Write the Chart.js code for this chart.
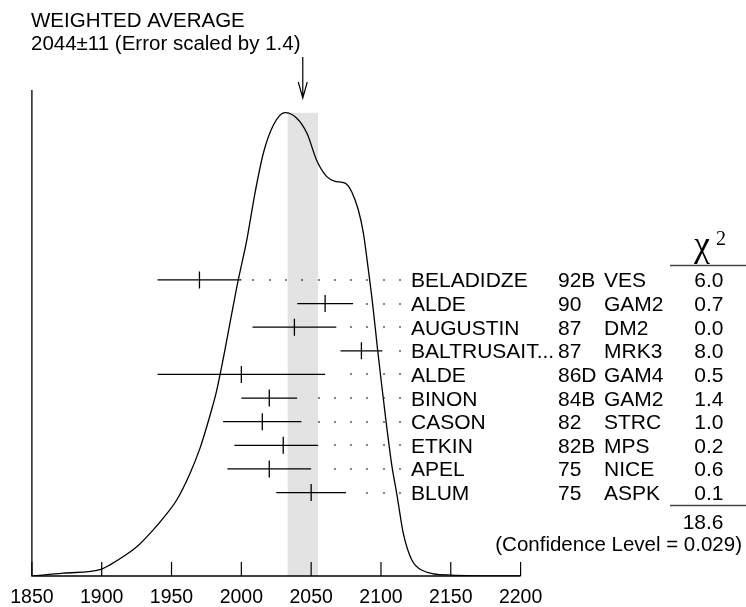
<!DOCTYPE html>
<html>
<head>
<meta charset="utf-8">
<script src="https://cdn.jsdelivr.net/npm/chart.js@4.4.1/dist/chart.umd.min.js"></script>
<style>
  html, body { margin: 0; padding: 0; background: #ffffff; }
  #wrap { width: 746px; height: 607px; position: relative; }
</style>
</head>
<body>
<div id="wrap"><canvas id="c" width="746" height="607"></canvas></div>
<script>
// ---------------- data ----------------
const names  = ['BELADIDZE','ALDE','AUGUSTIN','BALTRUSAIT...','ALDE','BINON','CASON','ETKIN','APEL','BLUM'];
const years  = ['92B','90','87','87','86D','84B','82','82B','75','75'];
const techs  = ['VES','GAM2','DM2','MRK3','GAM4','GAM2','STRC','MPS','NICE','ASPK'];
const values = [1970, 2060, 2038, 2086, 2000, 2020, 2015, 2030, 2020, 2050];
const errLow = [30, 20, 30, 15, 60, 20, 28, 35, 30, 25];
const errHigh= [30, 20, 30, 15, 60, 20, 28, 25, 30, 25];
const chi2   = ['6.0','0.7','0.0','8.0','0.5','1.4','1.0','0.2','0.6','0.1'];
const chi2Total = '18.6';
const confLevel = '0.029';
const avgValue = 2044, avgError = 11, errScale = '1.4';
const xTicks = [1850, 1900, 1950, 2000, 2050, 2100, 2150, 2200];

// ideogram curve (relative height, peak = 1)
const curveX = [1850,1872.5,1900,1905.9,1915.5,1925.1,1934.6,1944.1,1953.7,1963.3,1970.4,1977.6,1982.4,1997.8,2003.9,2009.8,2015.8,2022.9,2031.2,2039.7,2046.9,2054.4,2061.2,2067.1,2074.3,2079.1,2083.8,2087.4,2091,2094,2097.6,2100.1,2103.5,2107.7,2111.3,2116,2122,2129,2150,2200];
const curveY = [0,0.006,0.015,0.024,0.042,0.063,0.092,0.125,0.164,0.222,0.276,0.347,0.401,0.639,0.725,0.827,0.913,0.973,1.0,0.988,0.956,0.894,0.862,0.852,0.848,0.829,0.790,0.740,0.660,0.588,0.488,0.423,0.337,0.240,0.178,0.092,0.035,0.013,0.002,0];

// ---------------- chart ----------------
const SANS = '"Liberation Sans", Arial, Helvetica, sans-serif';
const SERIF = '"Liberation Serif", "Times New Roman", serif';
const peak = Math.max(...curveY);
const curveData = curveX.map((x, i) => ({x: x, y: curveY[i]}));
const bandData = [{x: avgValue - avgError, y: peak}, {x: avgValue + avgError, y: peak}];

const deco = {
  id: 'deco',
  afterDatasetsDraw(chart) {
    const ctx = chart.ctx, xs = chart.scales.x, rs = chart.scales.row;
    ctx.save();
    ctx.strokeStyle = '#000';
    ctx.lineWidth = 1.3;
    const dotEnd = 2113.7, dotStep = 11.68;
    for (let i = 0; i < values.length; i++) {
      const y = rs.getPixelForValue(i);
      const x1 = xs.getPixelForValue(values[i] - errLow[i]);
      const x2 = xs.getPixelForValue(values[i] + errHigh[i]);
      const x0 = xs.getPixelForValue(values[i]);
      ctx.beginPath();
      ctx.moveTo(x1, y); ctx.lineTo(x2, y);
      ctx.moveTo(x0, y - 8.5); ctx.lineTo(x0, y + 8.5);
      ctx.stroke();
      ctx.fillStyle = '#222';
      for (let k = 0; k < 40; k++) {
        const px = xs.getPixelForValue(dotEnd - k * dotStep);
        if (px <= x2 + 10.7) break;
        ctx.fillRect(Math.round(px) - 0.75, Math.round(y) - 0.75, 1.5, 1.5);
      }
    }
    ctx.restore();
  },
  afterDraw(chart) {
    const ctx = chart.ctx, xs = chart.scales.x, rs = chart.scales.row;
    const area = chart.chartArea;
    ctx.save();
    // axes
    ctx.strokeStyle = '#000';
    ctx.lineWidth = 1.3;
    ctx.beginPath();
    ctx.moveTo(area.left, area.top);
    ctx.lineTo(area.left, area.bottom);
    ctx.lineTo(area.right, area.bottom);
    ctx.stroke();
    ctx.lineWidth = 1.2;
    ctx.beginPath();
    xTicks.forEach(t => {
      const px = xs.getPixelForValue(t);
      ctx.moveTo(px, area.bottom);
      ctx.lineTo(px, area.bottom - 14);
    });
    ctx.stroke();
    ctx.fillStyle = '#000';
    ctx.font = '19.5px ' + SANS;
    ctx.textAlign = 'center';
    ctx.textBaseline = 'alphabetic';
    xTicks.forEach(t => ctx.fillText(String(t), xs.getPixelForValue(t), 603));

    // title
    ctx.textAlign = 'left';
    ctx.font = '20.5px ' + SANS;
    ctx.fillText('WEIGHTED AVERAGE', 31, 27);
    ctx.fillText(avgValue + '\u00B1' + avgError + ' (Error scaled by ' + errScale + ')', 31, 50);

    // arrow
    const ax = xs.getPixelForValue(avgValue);
    ctx.lineWidth = 1.2;
    ctx.beginPath();
    ctx.moveTo(ax, 57); ctx.lineTo(ax, 98);
    ctx.moveTo(ax - 4.5, 82); ctx.lineTo(ax, 98); ctx.lineTo(ax + 4.5, 82);
    ctx.stroke();

    // table
    ctx.font = '21px ' + SANS;
    for (let i = 0; i < names.length; i++) {
      const y = rs.getPixelForValue(i) + 7.5;
      ctx.textAlign = 'left';
      ctx.fillText(names[i], 411, y);
      ctx.fillText(years[i], 558, y);
      ctx.fillText(techs[i], 604, y);
      ctx.textAlign = 'right';
      ctx.fillText(chi2[i], 723.5, y);
    }
    ctx.textAlign = 'right';
    ctx.fillText(chi2Total, 723.5, 529);
    ctx.font = '20.5px ' + SANS;
    ctx.fillText('(Confidence Level = ' + confLevel + ')', 742, 551);

    // chi^2 header
    ctx.textAlign = 'left';
    ctx.font = '36px ' + SERIF;
    ctx.fillText('\u03C7', 694, 256);
    ctx.font = '20px ' + SERIF;
    ctx.fillText('2', 716, 245);

    // rules
    ctx.strokeStyle = '#444';
    ctx.lineWidth = 1.5;
    ctx.beginPath();
    ctx.moveTo(670, 265.5); ctx.lineTo(746, 265.5);
    ctx.moveTo(670, 505.5); ctx.lineTo(746, 505.5);
    ctx.stroke();
    ctx.restore();
  }
};

new Chart(document.getElementById('c'), {
  type: 'line',
  data: {
    datasets: [
      {
        label: 'ideogram',
        data: curveData,
        borderColor: '#000',
        borderWidth: 1.3,
        pointRadius: 0,
        fill: false,
        cubicInterpolationMode: 'monotone',
        order: 1
      },
      {
        label: 'average band',
        data: bandData,
        borderWidth: 0,
        borderColor: 'rgba(0,0,0,0)',
        backgroundColor: '#e3e3e3',
        pointRadius: 0,
        fill: 'origin',
        tension: 0,
        order: 2
      }
    ]
  },
  options: {
    responsive: false,
    animation: false,
    devicePixelRatio: 1,
    layout: { padding: { left: 31.9, right: 746 - 520.6, top: 90, bottom: 607 - 576 } },
    plugins: { legend: { display: false }, tooltip: { enabled: false }, title: { display: false } },
    scales: {
      x: { type: 'linear', min: 1850, max: 2200, display: false },
      y: { type: 'linear', min: 0, max: (576 - 90) / 463.3, display: false },
      row: { type: 'linear', min: -8.04, max: 12.53, reverse: true, display: false, position: 'right' }
    }
  },
  plugins: [deco]
});
</script>
</body>
</html>
